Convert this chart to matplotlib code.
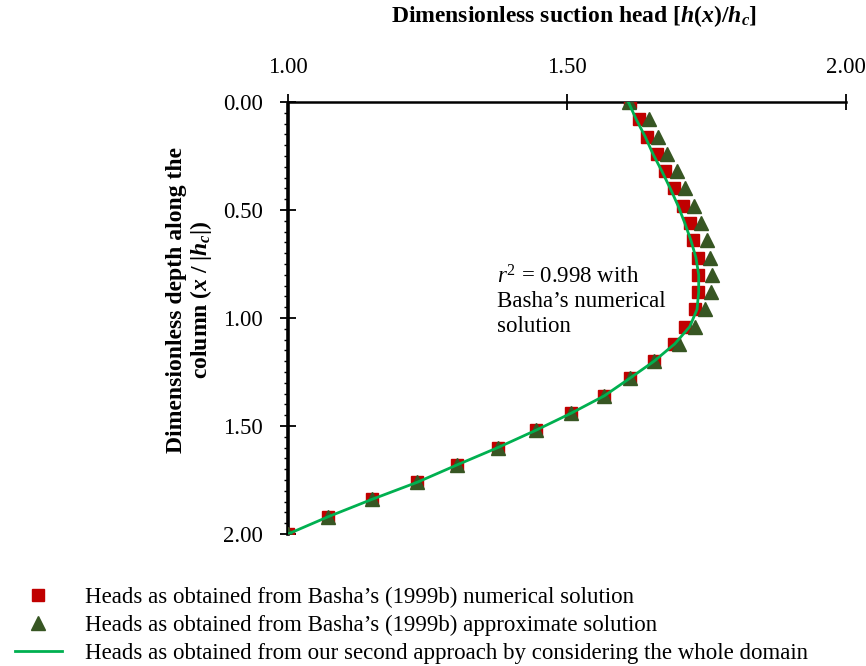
import numpy as np
import matplotlib.pyplot as plt
from matplotlib.lines import Line2D

plt.rcParams["font.family"] = "Liberation Serif"
plt.rcParams["mathtext.fontset"] = "custom"
plt.rcParams["mathtext.rm"] = "Liberation Serif"
plt.rcParams["mathtext.it"] = "Liberation Serif:italic"
plt.rcParams["mathtext.bf"] = "Liberation Serif:bold"
plt.rcParams["mathtext.bfit"] = "Liberation Serif:bold:italic"

# dimensionless depth x/|hc|
depth = np.round(np.arange(0, 2.0001, 0.08), 2)

# Basha (1999b) numerical solution
head_numerical = [1.612, 1.629, 1.644, 1.662, 1.676, 1.692, 1.707, 1.720, 1.725,
                  1.734, 1.734, 1.734, 1.730, 1.712, 1.691, 1.656, 1.612, 1.567,
                  1.508, 1.444, 1.376, 1.303, 1.232, 1.150, 1.072, 1.000]

# Basha (1999b) approximate solution
head_approx = [1.611, 1.647, 1.663, 1.679, 1.697, 1.712, 1.728, 1.740, 1.750,
               1.756, 1.760, 1.758, 1.747, 1.729, 1.701, 1.656, 1.612, 1.567,
               1.508, 1.444, 1.376, 1.303, 1.232, 1.150, 1.072, 1.000]

# second approach, whole domain
head_whole = [1.610, 1.624, 1.640, 1.654, 1.670, 1.685, 1.699, 1.711, 1.722,
              1.731, 1.736, 1.736, 1.733, 1.720, 1.693, 1.656, 1.612, 1.567,
              1.508, 1.444, 1.376, 1.303, 1.232, 1.150, 1.072, 1.000]

red = "#C00000"
olive = "#375623"
green = "#00B050"

fig = plt.figure(figsize=(8.66, 6.66), dpi=100)
ax = fig.add_axes([0.3326, 0.1982, 0.6443, 0.6486])

ax.plot(head_numerical, depth, "s", color=red, ms=8, zorder=3)
ax.plot(head_approx, depth, "^", color=olive, ms=9.5, zorder=4)
ax.plot(head_whole, depth, "-", color=green, lw=2, zorder=5)

ax.set_xlim(1.0, 2.0)
ax.set_ylim(2.0, 0.0)
ax.set_xticks([1.0, 1.5, 2.0])
ax.set_yticks([0.0, 0.5, 1.0, 1.5, 2.0])
ax.set_xticklabels(["1.00", "1.50", "2.00"])
ax.set_yticklabels(["0.00", "0.50", "1.00", "1.50", "2.00"])
ax.set_yticks(np.arange(0, 2.0001, 0.05), minor=True)

ax.xaxis.tick_top()
ax.tick_params(axis="x", which="major", direction="inout", length=12, width=1.3,
               labelsize=16.5, pad=11)
ax.tick_params(axis="y", which="major", direction="inout", length=12, width=1.3,
               labelsize=16.5, pad=12)
ax.tick_params(axis="y", which="minor", direction="out", length=3, width=1)

for side in ["right", "bottom"]:
    ax.spines[side].set_visible(False)
ax.spines["top"].set_linewidth(1.8)
ax.spines["left"].set_linewidth(2.6)
ax.spines["left"].set_linestyle((0, (4, 1)))

ax.text(1.375, 0.92,
        "$r^2$ = 0.998 with\nBasha\u2019s numerical\nsolution",
        fontsize=16.5, va="center", ha="left", linespacing=1.2)

fig.text(0.663, 0.996,
         r"Dimensionless suction head [$\mathbfit{h}\mathbf{(}\mathbfit{x}\mathbf{)/}\mathbfit{h}_{\mathbfit{c}}$]",
         fontsize=17, fontweight="bold", ha="center", va="top")

fig.text(0.219, 0.55,
         "Dimensionless depth along the\n"
         r"column ($\mathbfit{x}\ \mathbf{/\ |}\mathbfit{h}_{\mathbfit{c}}\mathbf{|}$)",
         fontsize=17, fontweight="bold", ha="center", va="center",
         rotation=90, linespacing=1.05)

handles = [
    Line2D([], [], ls="none", marker="s", color=red, ms=8),
    Line2D([], [], ls="none", marker="^", color=olive, ms=9.5),
    Line2D([], [], color=green, lw=2),
]
labels = [
    "Heads as obtained from Basha\u2019s (1999b) numerical solution",
    "Heads as obtained from Basha\u2019s (1999b) approximate solution",
    "Heads as obtained from our second approach by considering the whole domain",
]
fig.legend(handles, labels, loc="upper left", bbox_to_anchor=(0.017, 0.119),
           frameon=False, fontsize=16.5, handlelength=2.05, handletextpad=1.0,
           labelspacing=0.3, borderpad=0, borderaxespad=0)

fig.savefig("out.png", dpi=100)
